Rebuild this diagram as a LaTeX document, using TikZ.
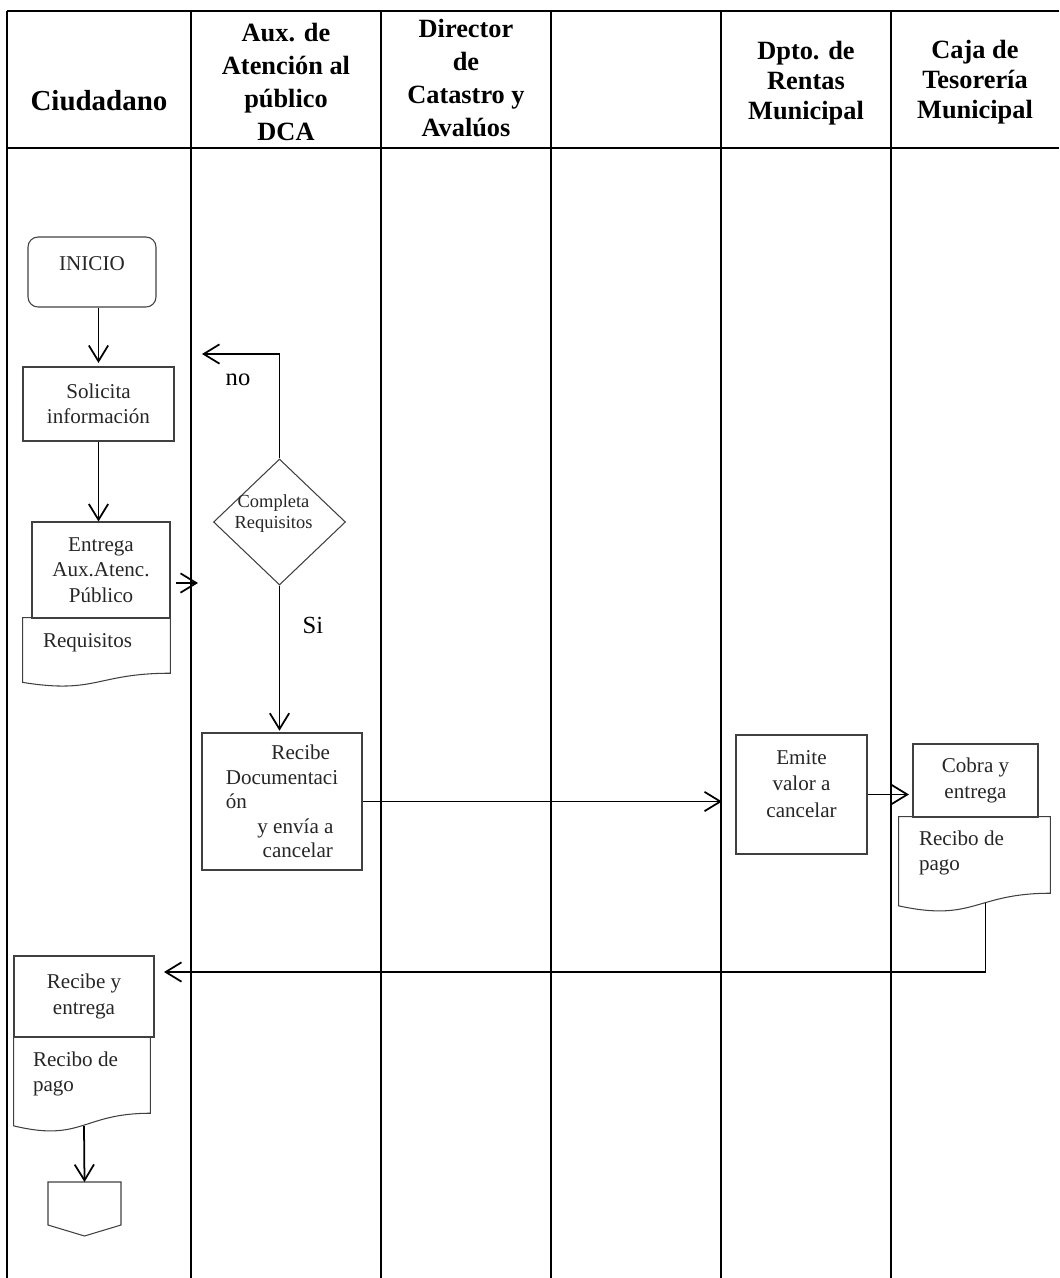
\documentclass[tikz,border=0pt]{standalone}
\usepackage{fontspec}
\setmainfont{Liberation Serif}
\usepackage{tikz}
\usetikzlibrary{shapes.geometric, positioning, arrows.meta, calc}

% outline of a document symbol drawn round an (invisible) node
\newcommand{\docoutline}[1]{%
  \draw[docline] (#1.north west) -- (#1.north east)
    -- ($(#1.north east)!0.802!(#1.south east)$)
    .. controls ($(#1.north)!0.802!(#1.south)$) and ($(#1.north)!1.107!(#1.south)$)
    .. ($(#1.north west)!0.934!(#1.south west)$) -- cycle;}

\begin{document}
\begin{tikzpicture}[
  x=0.02cm, y=-0.02cm,
  lane/.style={line width=0.7pt},
  lanehead/.style={font=\fontsize{15}{17}\selectfont\bfseries, align=center},
  tallhead/.style={lanehead, font=\fontsize{15}{18.7}\selectfont\bfseries},
  box/.style={draw=black!75, line width=0.6pt, text=black!85, align=center,
    font=\fontsize{12}{14.5}\selectfont, inner sep=2pt},
  boxtext/.style={text=black!85, align=center, font=\fontsize{12}{15}\selectfont},
  docline/.style={draw=black!75, line width=0.6pt},
  doc/.style={inner sep=0pt},
  doctext/.style={text=black!85, align=left, inner sep=0pt, anchor=west,
    font=\fontsize{12}{14.5}\selectfont},
  decision/.style={diamond, draw=black!75, line width=0.6pt, inner sep=0pt,
    minimum width=2.64cm, minimum height=2.52cm},
  dectext/.style={text=black!85, align=center, font=\fontsize{10.5}{12}\selectfont},
  choice/.style={font=\fontsize{14}{16}\selectfont},
  flow/.style={-{Straight Barb[length=9pt,width=11pt]}, line width=1pt}
]
  \useasboundingbox (0,0) rectangle (1059,1278);

  % swimlanes
  \foreach \x in {7,191,381,551,721,891}
    \draw[lane] (\x,11) -- (\x,1278);
  \draw[lane] (7,11) -- (1059,11);
  \draw[lane] (7,148) -- (1059,148);

  \node[lanehead, font=\fontsize{16.5}{18}\selectfont\bfseries] (hciud) at (99,101) {Ciudadano};
  \node[tallhead] (haux) at (286,82) {Aux. de\\Atención al\\público\\DCA};
  \node[tallhead] (hdir) at (466,78) {Director\\de\\Catastro y\\Avalúos};
  \node[lanehead] (hrent) at (806,83) {Dpto. de\\Rentas\\Municipal};
  \node[lanehead] (hcaja) at (975,82) {Caja de\\Tesorería\\Municipal};

  % Ciudadano
  \node[box, rounded corners=0.2cm, minimum width=2.56cm, minimum height=1.40cm,
    label={[boxtext, yshift=5pt]center:INICIO}] (inicio) at (92,272) {};
  \node[box, minimum width=3.02cm, minimum height=1.48cm] (solicita) at (98.5,404)
    {Solicita\\información};
  \node[box, minimum width=2.76cm, minimum height=1.92cm] (entrega) at (101,570)
    {Entrega\\Aux.Atenc.\\Público};
  \node[doc, minimum width=2.94cm, minimum height=1.372cm] (req) at (96.5,652.3) {};
  \docoutline{req}
  \node[doctext] (reqtxt) at ($(req.north west)+(20,25)$) {Requisitos};

  % Aux. de Atencion al publico
  \node[decision, label={[dectext, xshift=-3.4pt, yshift=5pt]center:{Completa\\Requisitos}}]
    (dec) at (279.5,522) {};
  \node[choice] (nolab) at (238,380) {no};
  \node[choice] (silab) at (313,625) {Si};
  \node[box, align=left, font=\fontsize{12}{13.9}\selectfont,
    minimum width=3.2cm, minimum height=2.74cm] (recibe) at (282,801.5)
    {\hspace*{26pt}Recibe\\Documentaci\\ón\\\hspace*{18pt}y envía a\\\hspace*{21pt}cancelar};

  % Rentas y Tesoreria
  \node[box, minimum width=2.62cm, minimum height=2.38cm,
    label={[boxtext, yshift=6pt]center:{Emite\\valor a\\cancelar}}] (emite) at (801.5,794.5) {};
  \node[box, minimum width=2.5cm, minimum height=1.46cm] (cobra) at (975.5,780.5)
    {Cobra y\\entrega};
  \node[doc, minimum width=3.02cm, minimum height=1.896cm] (pago1) at (974.5,864.4) {};
  \docoutline{pago1}
  \node[doctext] (pago1txt) at ($(pago1.north west)+(20,36.5)$) {Recibo de\\pago};

  % Ciudadano, fin
  \node[box, minimum width=2.8cm, minimum height=1.62cm] (recibe2) at (84,996.5)
    {Recibe y\\entrega};
  \node[doc, minimum width=2.72cm, minimum height=1.896cm] (pago2) at (82,1084.4) {};
  \docoutline{pago2}
  \node[doctext] (pago2txt) at ($(pago2.north west)+(19,37.5)$) {Recibo de\\pago};
  \coordinate (fin) at (84.5,1182);
  \draw[docline] (fin) ++(-36.5,0) -- ++(73,0) -- ++(0,43) -- ++(-36.5,11)
    -- ++(-36.5,-11) -- cycle;

  % connectors
  \coordinate (auxin) at (198,583);
  \coordinate (noend) at (202,354);
  \coordinate (rentasin) at (722,801.5);
  \coordinate (ciudin) at (164,972);
  \coordinate (pagoout) at ($(pago1.south)+(11,-9)$);
  \draw[flow, shorten >=2pt] (inicio.south -| solicita.north) -- (solicita.north);
  \draw[flow] (solicita.south) -- (solicita.south |- entrega.north);
  \draw[flow] ([xshift=3pt]entrega.east |- auxin) -- (auxin);
  \draw[flow] (dec.north) |- (noend);
  \draw[flow, shorten >=1pt] (dec.south) -- (dec.south |- recibe.north);
  \draw[flow] (recibe.east) -- (rentasin);
  \draw[flow, shorten >=2pt] (emite.east) -- (emite.east -| cobra.west);
  \draw[flow] (pagoout) -- (pagoout |- ciudin) -- (ciudin);
  \draw[flow] ($(pago2.south)+(2,-6)$) -- (fin);
\end{tikzpicture}
\end{document}
